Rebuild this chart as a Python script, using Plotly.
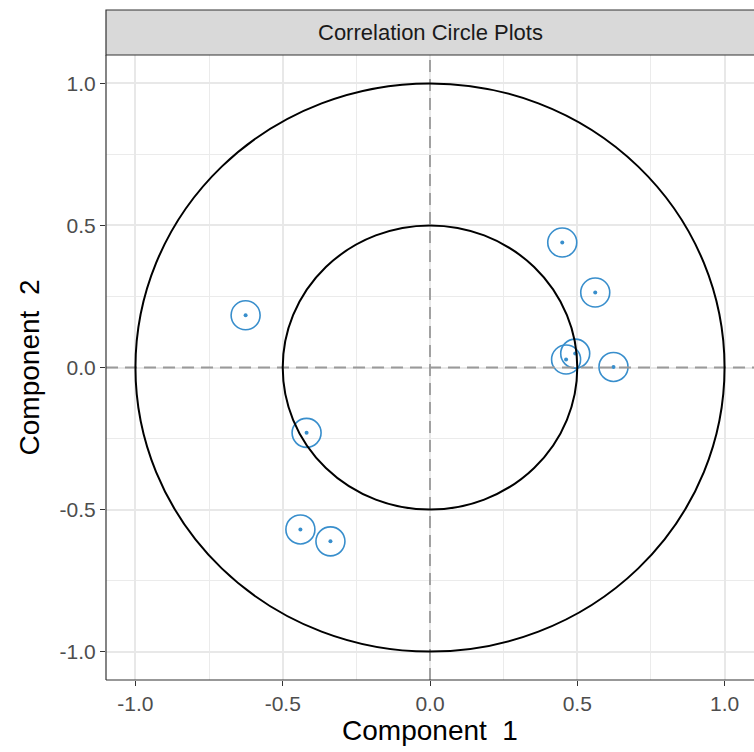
import plotly.graph_objects as go

# Variable correlations with the first two components
comp1 = [0.449, 0.561, 0.462, 0.493, 0.623, -0.626, -0.419, -0.440, -0.338]
comp2 = [0.440, 0.264, 0.028, 0.049, 0.002, 0.184, -0.230, -0.570, -0.612]

radii = [1.0, 0.5]
tick_vals = [-1.0, -0.5, 0.0, 0.5, 1.0]
tick_text = ["-1.0", "-0.5", "0.0", "0.5", "1.0"]
minor_vals = [-0.75, -0.25, 0.25, 0.75]

point_color = "#388ECC"
font_family = "Liberation Sans, Arial, sans-serif"

fig = go.Figure()

# Open circles around each variable, with a small centre dot
fig.add_trace(go.Scatter(
    x=comp1, y=comp2, mode="markers",
    marker=dict(symbol="circle-open", size=29, color=point_color,
                line=dict(width=1.6, color=point_color)),
    hoverinfo="skip", showlegend=False,
))
fig.add_trace(go.Scatter(
    x=comp1, y=comp2, mode="markers",
    marker=dict(symbol="circle", size=4, color=point_color),
    showlegend=False,
))

shapes = []
# Reference lines through the origin
for x0, x1, y0, y1 in [(0, 0, -1.1, 1.1), (-1.1, 1.1, 0, 0)]:
    shapes.append(dict(type="line", xref="x", yref="y", x0=x0, x1=x1, y0=y0, y1=y1,
                       line=dict(color="#9a9a9a", width=1.8, dash="12px,7px"),
                       layer="above"))
# Correlation circles
for r in radii:
    shapes.append(dict(type="circle", xref="x", yref="y", x0=-r, x1=r, y0=-r, y1=r,
                       line=dict(color="black", width=2), layer="above"))
# Facet strip
shapes.append(dict(type="rect", xref="paper", yref="paper", x0=0, x1=1.01,
                   y0=1.0, y1=1.0 + 45 / 625,
                   fillcolor="#d9d9d9", line=dict(color="#333333", width=1.2)))
# Panel border (left and bottom)
shapes.append(dict(type="line", xref="paper", yref="paper", x0=0, x1=0, y0=0, y1=1,
                   line=dict(color="#333333", width=1.2)))
shapes.append(dict(type="line", xref="paper", yref="paper", x0=0, x1=1.01, y0=0, y1=0,
                   line=dict(color="#333333", width=1.2)))

fig.update_layout(
    width=754, height=752,
    margin=dict(l=106, r=0, t=55, b=72),
    plot_bgcolor="white", paper_bgcolor="white",
    font=dict(family=font_family),
    shapes=shapes,
    annotations=[dict(text="Correlation Circle Plots", xref="paper", yref="paper",
                      x=0.5, y=1.0 + 22.5 / 625, showarrow=False,
                      font=dict(size=22, color="#1a1a1a", family=font_family),
                      xanchor="center", yanchor="middle")],
    showlegend=False,
)

axis_common = dict(
    tickmode="array", tickvals=tick_vals, ticktext=tick_text,
    showgrid=True, gridcolor="#e8e8e8", gridwidth=1.8,
    zeroline=False, showline=False,
    ticks="outside", ticklen=5, tickwidth=1.3, tickcolor="#333333",
    tickfont=dict(size=21, color="#4d4d4d", family=font_family),
    minor=dict(tickvals=minor_vals, showgrid=True, gridcolor="#ebebeb", gridwidth=1.1, ticks=""),
)

fig.update_xaxes(range=[-1.1, 1.1], **axis_common,
                 title=dict(text="Component\u00a0 1", standoff=6,
                            font=dict(size=28, color="black", family=font_family)))
fig.update_yaxes(range=[-1.1, 1.1], **axis_common,
                 title=dict(text="Component\u00a0 2", standoff=11,
                            font=dict(size=28, color="black", family=font_family)))

fig.write_html("out.html")
